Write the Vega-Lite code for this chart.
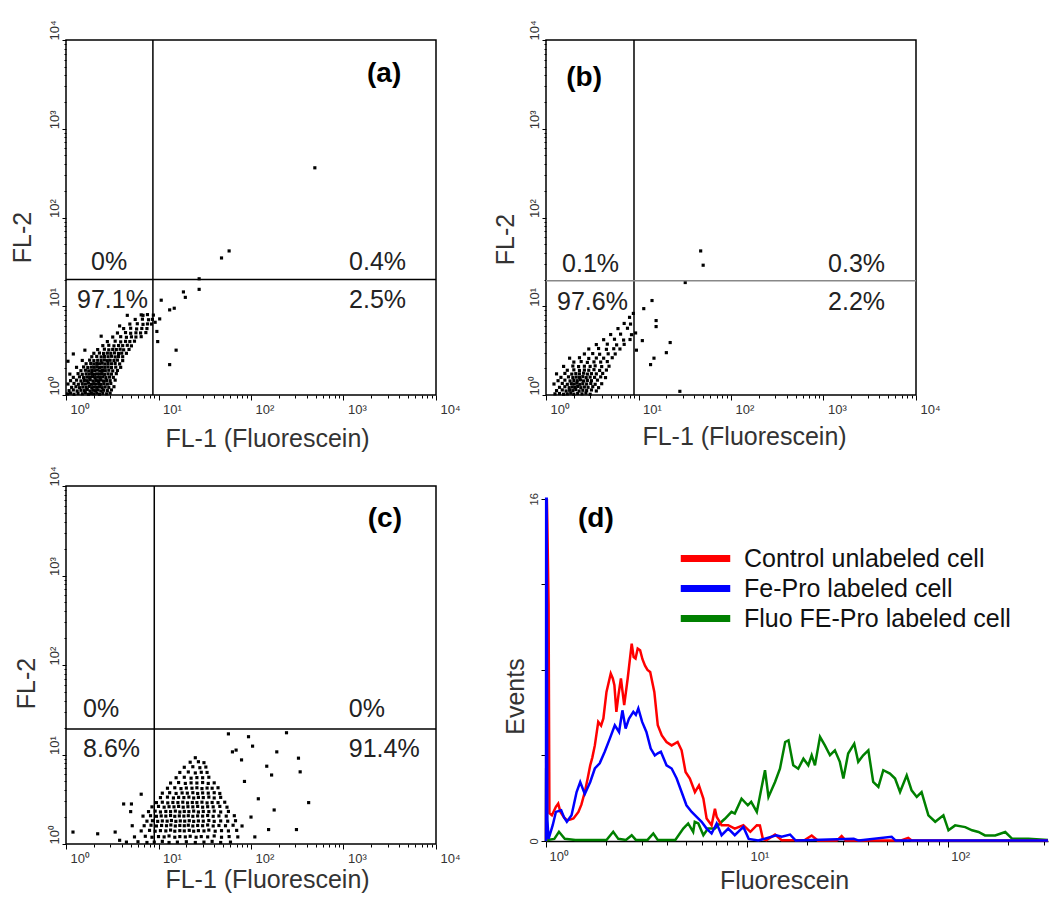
{
"$schema": "https://vega.github.io/schema/vega-lite/v6.json",
"padding": {"left": 9, "top": 19, "right": 0, "bottom": 0},
"background": "white",
"config": {
 "view": {"stroke": null},
 "font": "Liberation Sans",
 "axis": {"grid": false, "labelFont": "Liberation Sans", "labelColor": "#333", "labelFontSize": 13, "titleFont": "Liberation Sans", "titleColor": "#333", "titleFontSize": 25, "titleFontWeight": "normal", "tickColor": "black", "domainColor": "black", "labelFlush": false, "labelOverlap": false, "labelBound": false}
},
"datasets": {
"pts": [
{"p":"a","x":1.04,"y":1.03},{"p":"a","x":1.12,"y":1.05},{"p":"a","x":1.22,"y":1.02},{"p":"a","x":1.35,"y":1.04},{"p":"a","x":1.5,"y":1.03},{"p":"a","x":1.62,"y":1.06},{"p":"a","x":1.75,"y":1.02},{"p":"a","x":1.88,"y":1.04},{"p":"a","x":2.0,"y":1.03},{"p":"a","x":2.15,"y":1.05},{"p":"a","x":2.3,"y":1.02},{"p":"a","x":2.5,"y":1.04},{"p":"a","x":2.75,"y":1.03},{"p":"a","x":3.0,"y":1.05},
{"p":"a","x":1.08,"y":1.12},{"p":"a","x":1.2,"y":1.14},{"p":"a","x":1.32,"y":1.11},{"p":"a","x":1.45,"y":1.13},{"p":"a","x":1.58,"y":1.12},{"p":"a","x":1.7,"y":1.15},{"p":"a","x":1.82,"y":1.11},{"p":"a","x":1.95,"y":1.13},{"p":"a","x":2.08,"y":1.12},{"p":"a","x":2.22,"y":1.14},{"p":"a","x":2.38,"y":1.11},{"p":"a","x":2.55,"y":1.13},{"p":"a","x":2.8,"y":1.12},{"p":"a","x":3.1,"y":1.14},
{"p":"a","x":1.15,"y":1.22},{"p":"a","x":1.28,"y":1.24},{"p":"a","x":1.4,"y":1.21},{"p":"a","x":1.52,"y":1.23},{"p":"a","x":1.65,"y":1.22},{"p":"a","x":1.78,"y":1.25},{"p":"a","x":1.9,"y":1.21},{"p":"a","x":2.02,"y":1.23},{"p":"a","x":2.15,"y":1.22},{"p":"a","x":2.3,"y":1.24},{"p":"a","x":2.46,"y":1.21},{"p":"a","x":2.65,"y":1.23},{"p":"a","x":2.9,"y":1.22},{"p":"a","x":3.3,"y":1.24},
{"p":"a","x":1.05,"y":1.33},{"p":"a","x":1.22,"y":1.35},{"p":"a","x":1.36,"y":1.32},{"p":"a","x":1.5,"y":1.34},{"p":"a","x":1.62,"y":1.33},{"p":"a","x":1.75,"y":1.36},{"p":"a","x":1.88,"y":1.32},{"p":"a","x":2.0,"y":1.34},{"p":"a","x":2.12,"y":1.33},{"p":"a","x":2.26,"y":1.35},{"p":"a","x":2.4,"y":1.32},{"p":"a","x":2.58,"y":1.34},{"p":"a","x":2.8,"y":1.33},{"p":"a","x":3.05,"y":1.35},
{"p":"a","x":1.12,"y":1.45},{"p":"a","x":1.3,"y":1.47},{"p":"a","x":1.45,"y":1.44},{"p":"a","x":1.58,"y":1.46},{"p":"a","x":1.7,"y":1.45},{"p":"a","x":1.83,"y":1.48},{"p":"a","x":1.96,"y":1.44},{"p":"a","x":2.1,"y":1.46},{"p":"a","x":2.24,"y":1.45},{"p":"a","x":2.38,"y":1.47},{"p":"a","x":2.55,"y":1.44},{"p":"a","x":2.75,"y":1.46},{"p":"a","x":3.0,"y":1.45},{"p":"a","x":3.4,"y":1.47},
{"p":"a","x":1.2,"y":1.58},{"p":"a","x":1.4,"y":1.6},{"p":"a","x":1.55,"y":1.57},{"p":"a","x":1.68,"y":1.59},{"p":"a","x":1.8,"y":1.58},{"p":"a","x":1.93,"y":1.61},{"p":"a","x":2.06,"y":1.57},{"p":"a","x":2.2,"y":1.59},{"p":"a","x":2.35,"y":1.58},{"p":"a","x":2.5,"y":1.6},{"p":"a","x":2.7,"y":1.57},{"p":"a","x":2.95,"y":1.59},{"p":"a","x":3.25,"y":1.58},
{"p":"a","x":1.1,"y":1.72},{"p":"a","x":1.35,"y":1.74},{"p":"a","x":1.5,"y":1.71},{"p":"a","x":1.65,"y":1.73},{"p":"a","x":1.78,"y":1.72},{"p":"a","x":1.9,"y":1.75},{"p":"a","x":2.03,"y":1.71},{"p":"a","x":2.16,"y":1.73},{"p":"a","x":2.3,"y":1.72},{"p":"a","x":2.45,"y":1.74},{"p":"a","x":2.62,"y":1.71},{"p":"a","x":2.85,"y":1.73},{"p":"a","x":3.1,"y":1.72},{"p":"a","x":3.5,"y":1.74},
{"p":"a","x":1.45,"y":1.88},{"p":"a","x":1.62,"y":1.9},{"p":"a","x":1.76,"y":1.87},{"p":"a","x":1.9,"y":1.89},{"p":"a","x":2.04,"y":1.88},{"p":"a","x":2.18,"y":1.91},{"p":"a","x":2.32,"y":1.87},{"p":"a","x":2.48,"y":1.89},{"p":"a","x":2.66,"y":1.88},{"p":"a","x":2.9,"y":1.9},{"p":"a","x":3.2,"y":1.87},{"p":"a","x":3.6,"y":1.89},
{"p":"a","x":1.3,"y":2.05},{"p":"a","x":1.55,"y":2.07},{"p":"a","x":1.72,"y":2.04},{"p":"a","x":1.88,"y":2.06},{"p":"a","x":2.02,"y":2.05},{"p":"a","x":2.16,"y":2.08},{"p":"a","x":2.3,"y":2.04},{"p":"a","x":2.46,"y":2.06},{"p":"a","x":2.64,"y":2.05},{"p":"a","x":2.85,"y":2.07},{"p":"a","x":3.1,"y":2.04},{"p":"a","x":3.45,"y":2.06},{"p":"a","x":3.9,"y":2.05},
{"p":"a","x":1.65,"y":2.25},{"p":"a","x":1.85,"y":2.27},{"p":"a","x":2.0,"y":2.24},{"p":"a","x":2.15,"y":2.26},{"p":"a","x":2.3,"y":2.25},{"p":"a","x":2.46,"y":2.28},{"p":"a","x":2.64,"y":2.24},{"p":"a","x":2.85,"y":2.26},{"p":"a","x":3.1,"y":2.25},{"p":"a","x":3.4,"y":2.27},{"p":"a","x":3.8,"y":2.24},
{"p":"a","x":1.5,"y":2.45},{"p":"a","x":1.8,"y":2.47},{"p":"a","x":2.0,"y":2.44},{"p":"a","x":2.2,"y":2.46},{"p":"a","x":2.4,"y":2.45},{"p":"a","x":2.6,"y":2.48},{"p":"a","x":2.8,"y":2.44},{"p":"a","x":3.0,"y":2.46},{"p":"a","x":3.3,"y":2.45},{"p":"a","x":3.6,"y":2.47},{"p":"a","x":4.1,"y":2.44},
{"p":"a","x":1.9,"y":2.7},{"p":"a","x":2.15,"y":2.72},{"p":"a","x":2.4,"y":2.69},{"p":"a","x":2.6,"y":2.71},{"p":"a","x":2.85,"y":2.7},{"p":"a","x":3.1,"y":2.73},{"p":"a","x":3.4,"y":2.69},{"p":"a","x":3.7,"y":2.71},{"p":"a","x":4.1,"y":2.7},
{"p":"a","x":2.0,"y":2.95},{"p":"a","x":2.3,"y":2.97},{"p":"a","x":2.55,"y":2.94},{"p":"a","x":2.8,"y":2.96},{"p":"a","x":3.05,"y":2.95},{"p":"a","x":3.35,"y":2.98},{"p":"a","x":3.7,"y":2.94},{"p":"a","x":4.0,"y":2.96},{"p":"a","x":4.5,"y":2.95},
{"p":"a","x":2.2,"y":3.25},{"p":"a","x":2.6,"y":3.28},{"p":"a","x":2.9,"y":3.23},{"p":"a","x":3.2,"y":3.26},{"p":"a","x":3.5,"y":3.25},{"p":"a","x":3.85,"y":3.28},{"p":"a","x":4.2,"y":3.23},{"p":"a","x":4.8,"y":3.26},
{"p":"a","x":2.5,"y":3.6},{"p":"a","x":2.9,"y":3.63},{"p":"a","x":3.3,"y":3.58},{"p":"a","x":3.7,"y":3.61},{"p":"a","x":4.1,"y":3.6},{"p":"a","x":4.6,"y":3.63},{"p":"a","x":5.1,"y":3.58},
{"p":"a","x":2.8,"y":4.0},{"p":"a","x":3.4,"y":4.04},{"p":"a","x":3.9,"y":3.97},{"p":"a","x":4.4,"y":4.02},{"p":"a","x":4.9,"y":4.0},{"p":"a","x":5.5,"y":4.04},
{"p":"a","x":3.2,"y":4.5},{"p":"a","x":3.9,"y":4.54},{"p":"a","x":4.5,"y":4.47},{"p":"a","x":5.1,"y":4.52},{"p":"a","x":5.7,"y":4.5},{"p":"a","x":6.5,"y":4.54},
{"p":"a","x":3.6,"y":5.0},{"p":"a","x":4.4,"y":5.05},{"p":"a","x":5.0,"y":4.96},{"p":"a","x":5.7,"y":5.02},{"p":"a","x":6.4,"y":5.0},{"p":"a","x":7.3,"y":5.05},
{"p":"a","x":4.2,"y":5.6},{"p":"a","x":5.0,"y":5.65},{"p":"a","x":5.8,"y":5.55},{"p":"a","x":6.6,"y":5.62},{"p":"a","x":7.5,"y":5.6},
{"p":"a","x":4.9,"y":6.3},{"p":"a","x":5.9,"y":6.35},{"p":"a","x":6.8,"y":6.25},{"p":"a","x":7.6,"y":6.32},{"p":"a","x":8.4,"y":6.3},
{"p":"a","x":5.6,"y":7.1},{"p":"a","x":6.7,"y":7.15},{"p":"a","x":7.8,"y":7.05},{"p":"a","x":8.6,"y":7.12},
{"p":"a","x":6.5,"y":8.0},{"p":"a","x":7.6,"y":8.05},{"p":"a","x":8.8,"y":7.95},
{"p":"a","x":490,"y":363},{"p":"a","x":48,"y":35},{"p":"a","x":58,"y":42},{"p":"a","x":27.5,"y":20.4},{"p":"a","x":27.5,"y":15.5},{"p":"a","x":18.6,"y":14.5},{"p":"a","x":19.5,"y":12.6},{"p":"a","x":10.7,"y":11.7},{"p":"a","x":13.2,"y":9.1},{"p":"a","x":14.8,"y":9.5},{"p":"a","x":15.5,"y":3.2},{"p":"a","x":13.2,"y":2.2},{"p":"a","x":4.6,"y":7.9},{"p":"a","x":6.8,"y":7.9},{"p":"a","x":3.8,"y":6.0},{"p":"a","x":9.2,"y":6.6},{"p":"a","x":9.6,"y":5.2},{"p":"a","x":10.3,"y":7.2},{"p":"a","x":9.8,"y":4.0},{"p":"a","x":1.05,"y":2.4},{"p":"a","x":1.2,"y":2.9},{"p":"a","x":1.6,"y":3.2},{"p":"a","x":2.4,"y":4.6},
{"p":"b","x":1.25,"y":1.03},{"p":"b","x":1.4,"y":1.04},{"p":"b","x":1.55,"y":1.02},{"p":"b","x":1.7,"y":1.03},{"p":"b","x":1.85,"y":1.05},{"p":"b","x":2.0,"y":1.02},{"p":"b","x":2.2,"y":1.04},{"p":"b","x":2.45,"y":1.03},{"p":"b","x":2.7,"y":1.05},{"p":"b","x":3.0,"y":1.02},
{"p":"b","x":1.3,"y":1.12},{"p":"b","x":1.5,"y":1.14},{"p":"b","x":1.65,"y":1.11},{"p":"b","x":1.8,"y":1.13},{"p":"b","x":1.95,"y":1.12},{"p":"b","x":2.1,"y":1.15},{"p":"b","x":2.28,"y":1.11},{"p":"b","x":2.5,"y":1.13},{"p":"b","x":2.75,"y":1.12},{"p":"b","x":3.1,"y":1.14},{"p":"b","x":3.5,"y":1.11},
{"p":"b","x":1.4,"y":1.22},{"p":"b","x":1.6,"y":1.24},{"p":"b","x":1.78,"y":1.21},{"p":"b","x":1.92,"y":1.23},{"p":"b","x":2.05,"y":1.22},{"p":"b","x":2.2,"y":1.25},{"p":"b","x":2.38,"y":1.21},{"p":"b","x":2.6,"y":1.23},{"p":"b","x":2.85,"y":1.22},{"p":"b","x":3.2,"y":1.24},{"p":"b","x":3.7,"y":1.21},
{"p":"b","x":1.22,"y":1.33},{"p":"b","x":1.5,"y":1.35},{"p":"b","x":1.7,"y":1.32},{"p":"b","x":1.88,"y":1.34},{"p":"b","x":2.02,"y":1.33},{"p":"b","x":2.16,"y":1.36},{"p":"b","x":2.32,"y":1.32},{"p":"b","x":2.5,"y":1.34},{"p":"b","x":2.75,"y":1.33},{"p":"b","x":3.05,"y":1.35},{"p":"b","x":3.4,"y":1.32},{"p":"b","x":4.0,"y":1.34},
{"p":"b","x":1.35,"y":1.45},{"p":"b","x":1.6,"y":1.47},{"p":"b","x":1.82,"y":1.44},{"p":"b","x":2.0,"y":1.46},{"p":"b","x":2.18,"y":1.45},{"p":"b","x":2.36,"y":1.48},{"p":"b","x":2.55,"y":1.44},{"p":"b","x":2.8,"y":1.46},{"p":"b","x":3.1,"y":1.45},{"p":"b","x":3.6,"y":1.47},
{"p":"b","x":1.45,"y":1.58},{"p":"b","x":1.75,"y":1.6},{"p":"b","x":1.95,"y":1.57},{"p":"b","x":2.12,"y":1.59},{"p":"b","x":2.3,"y":1.58},{"p":"b","x":2.5,"y":1.61},{"p":"b","x":2.72,"y":1.57},{"p":"b","x":3.0,"y":1.59},{"p":"b","x":3.35,"y":1.58},{"p":"b","x":3.9,"y":1.6},{"p":"b","x":4.4,"y":1.57},
{"p":"b","x":1.3,"y":1.73},{"p":"b","x":1.6,"y":1.75},{"p":"b","x":1.9,"y":1.72},{"p":"b","x":2.1,"y":1.74},{"p":"b","x":2.3,"y":1.73},{"p":"b","x":2.55,"y":1.76},{"p":"b","x":2.8,"y":1.72},{"p":"b","x":3.1,"y":1.74},{"p":"b","x":3.5,"y":1.73},{"p":"b","x":4.1,"y":1.75},
{"p":"b","x":1.7,"y":1.9},{"p":"b","x":2.0,"y":1.92},{"p":"b","x":2.3,"y":1.89},{"p":"b","x":2.6,"y":1.91},{"p":"b","x":2.9,"y":1.9},{"p":"b","x":3.3,"y":1.93},{"p":"b","x":3.8,"y":1.89},{"p":"b","x":4.5,"y":1.91},
{"p":"b","x":1.55,"y":2.1},{"p":"b","x":1.95,"y":2.12},{"p":"b","x":2.25,"y":2.09},{"p":"b","x":2.6,"y":2.11},{"p":"b","x":3.0,"y":2.1},{"p":"b","x":3.4,"y":2.13},{"p":"b","x":4.0,"y":2.09},{"p":"b","x":4.8,"y":2.11},
{"p":"b","x":2.0,"y":2.35},{"p":"b","x":2.4,"y":2.38},{"p":"b","x":2.8,"y":2.33},{"p":"b","x":3.3,"y":2.36},{"p":"b","x":3.9,"y":2.35},{"p":"b","x":4.6,"y":2.38},
{"p":"b","x":1.8,"y":2.6},{"p":"b","x":2.3,"y":2.63},{"p":"b","x":2.9,"y":2.58},{"p":"b","x":3.5,"y":2.61},{"p":"b","x":4.2,"y":2.6},{"p":"b","x":5.2,"y":2.63},
{"p":"b","x":2.6,"y":2.9},{"p":"b","x":3.2,"y":2.93},{"p":"b","x":3.8,"y":2.88},{"p":"b","x":4.7,"y":2.91},{"p":"b","x":5.6,"y":2.9},
{"p":"b","x":2.9,"y":3.3},{"p":"b","x":3.7,"y":3.34},{"p":"b","x":4.5,"y":3.27},{"p":"b","x":5.4,"y":3.32},{"p":"b","x":6.3,"y":3.3},
{"p":"b","x":3.5,"y":3.7},{"p":"b","x":4.6,"y":3.74},{"p":"b","x":5.8,"y":3.67},{"p":"b","x":7.0,"y":3.72},
{"p":"b","x":4.2,"y":4.2},{"p":"b","x":5.5,"y":4.25},{"p":"b","x":6.9,"y":4.16},{"p":"b","x":8.1,"y":4.22},
{"p":"b","x":5.0,"y":4.8},{"p":"b","x":6.4,"y":4.85},{"p":"b","x":8.4,"y":4.78},
{"p":"b","x":6.0,"y":5.6},{"p":"b","x":7.6,"y":5.65},
{"p":"b","x":7.0,"y":6.4},{"p":"b","x":8.2,"y":6.3},
{"p":"b","x":8.0,"y":7.5},{"p":"b","x":8.8,"y":8.3},
{"p":"b","x":47,"y":42},{"p":"b","x":50,"y":29},{"p":"b","x":32,"y":18.5},{"p":"b","x":14,"y":11.6},{"p":"b","x":11.4,"y":9.4},{"p":"b","x":15.5,"y":6.9},{"p":"b","x":15.5,"y":5.9},{"p":"b","x":22,"y":3.9},{"p":"b","x":20,"y":3.0},{"p":"b","x":14.7,"y":2.6},{"p":"b","x":13.5,"y":2.2},{"p":"b","x":28,"y":1.1},{"p":"b","x":11,"y":4.1},{"p":"b","x":9.3,"y":5.0},{"p":"b","x":9.5,"y":3.2},
{"p":"c","x":4.5,"y":1.05},{"p":"c","x":6.0,"y":1.06},{"p":"c","x":7.5,"y":1.04},{"p":"c","x":9,"y":1.05},{"p":"c","x":11,"y":1.07},{"p":"c","x":13,"y":1.04},{"p":"c","x":16,"y":1.05},{"p":"c","x":20,"y":1.06},{"p":"c","x":25,"y":1.04},{"p":"c","x":31,"y":1.05},{"p":"c","x":38,"y":1.07},{"p":"c","x":47,"y":1.04},{"p":"c","x":60,"y":1.05},
{"p":"c","x":5.5,"y":1.2},{"p":"c","x":7.2,"y":1.22},{"p":"c","x":8.5,"y":1.19},{"p":"c","x":10,"y":1.21},{"p":"c","x":11.5,"y":1.2},{"p":"c","x":13,"y":1.23},{"p":"c","x":15,"y":1.19},{"p":"c","x":17,"y":1.21},{"p":"c","x":19.5,"y":1.2},{"p":"c","x":22,"y":1.22},{"p":"c","x":25.5,"y":1.19},{"p":"c","x":29,"y":1.21},{"p":"c","x":34,"y":1.2},{"p":"c","x":40,"y":1.23},{"p":"c","x":48,"y":1.19},{"p":"c","x":58,"y":1.21},{"p":"c","x":72,"y":1.2},
{"p":"c","x":6.5,"y":1.4},{"p":"c","x":8.0,"y":1.42},{"p":"c","x":9.2,"y":1.39},{"p":"c","x":10.5,"y":1.41},{"p":"c","x":12,"y":1.4},{"p":"c","x":13.5,"y":1.43},{"p":"c","x":15,"y":1.39},{"p":"c","x":17,"y":1.41},{"p":"c","x":19,"y":1.4},{"p":"c","x":21.5,"y":1.42},{"p":"c","x":24,"y":1.39},{"p":"c","x":27,"y":1.41},{"p":"c","x":31,"y":1.4},{"p":"c","x":35,"y":1.43},{"p":"c","x":41,"y":1.39},{"p":"c","x":48,"y":1.41},{"p":"c","x":57,"y":1.4},{"p":"c","x":70,"y":1.42},
{"p":"c","x":7.0,"y":1.6},{"p":"c","x":8.3,"y":1.62},{"p":"c","x":9.5,"y":1.59},{"p":"c","x":10.8,"y":1.61},{"p":"c","x":12.2,"y":1.6},{"p":"c","x":13.6,"y":1.63},{"p":"c","x":15.2,"y":1.59},{"p":"c","x":17,"y":1.61},{"p":"c","x":19,"y":1.6},{"p":"c","x":21,"y":1.62},{"p":"c","x":23.5,"y":1.59},{"p":"c","x":26.5,"y":1.61},{"p":"c","x":30,"y":1.6},{"p":"c","x":34,"y":1.63},{"p":"c","x":39,"y":1.59},{"p":"c","x":45,"y":1.61},{"p":"c","x":53,"y":1.6},{"p":"c","x":64,"y":1.62},{"p":"c","x":80,"y":1.59},
{"p":"c","x":7.5,"y":1.8},{"p":"c","x":8.6,"y":1.82},{"p":"c","x":9.8,"y":1.79},{"p":"c","x":11,"y":1.81},{"p":"c","x":12.4,"y":1.8},{"p":"c","x":13.8,"y":1.83},{"p":"c","x":15.4,"y":1.79},{"p":"c","x":17.2,"y":1.81},{"p":"c","x":19.2,"y":1.8},{"p":"c","x":21.5,"y":1.82},{"p":"c","x":24,"y":1.79},{"p":"c","x":27,"y":1.81},{"p":"c","x":30.5,"y":1.8},{"p":"c","x":35,"y":1.83},{"p":"c","x":40,"y":1.79},{"p":"c","x":47,"y":1.81},{"p":"c","x":56,"y":1.8},{"p":"c","x":68,"y":1.82},
{"p":"c","x":6.8,"y":2.05},{"p":"c","x":8.2,"y":2.07},{"p":"c","x":9.5,"y":2.04},{"p":"c","x":10.7,"y":2.06},{"p":"c","x":12,"y":2.05},{"p":"c","x":13.5,"y":2.08},{"p":"c","x":15,"y":2.04},{"p":"c","x":16.8,"y":2.06},{"p":"c","x":18.8,"y":2.05},{"p":"c","x":21,"y":2.07},{"p":"c","x":23.5,"y":2.04},{"p":"c","x":26.5,"y":2.06},{"p":"c","x":30,"y":2.05},{"p":"c","x":34,"y":2.08},{"p":"c","x":39,"y":2.04},{"p":"c","x":45,"y":2.06},{"p":"c","x":54,"y":2.05},{"p":"c","x":66,"y":2.07},
{"p":"c","x":7.8,"y":2.3},{"p":"c","x":9.2,"y":2.33},{"p":"c","x":10.5,"y":2.28},{"p":"c","x":12,"y":2.31},{"p":"c","x":13.5,"y":2.3},{"p":"c","x":15.2,"y":2.33},{"p":"c","x":17,"y":2.28},{"p":"c","x":19,"y":2.31},{"p":"c","x":21.3,"y":2.3},{"p":"c","x":24,"y":2.33},{"p":"c","x":27,"y":2.28},{"p":"c","x":30.5,"y":2.31},{"p":"c","x":35,"y":2.3},{"p":"c","x":40,"y":2.33},{"p":"c","x":47,"y":2.28},{"p":"c","x":57,"y":2.31},
{"p":"c","x":8.5,"y":2.6},{"p":"c","x":10,"y":2.63},{"p":"c","x":11.5,"y":2.58},{"p":"c","x":13,"y":2.61},{"p":"c","x":14.7,"y":2.6},{"p":"c","x":16.5,"y":2.63},{"p":"c","x":18.5,"y":2.58},{"p":"c","x":20.8,"y":2.61},{"p":"c","x":23.5,"y":2.6},{"p":"c","x":26.5,"y":2.63},{"p":"c","x":30,"y":2.58},{"p":"c","x":34,"y":2.61},{"p":"c","x":39,"y":2.6},{"p":"c","x":46,"y":2.63},{"p":"c","x":55,"y":2.58},
{"p":"c","x":9.5,"y":2.9},{"p":"c","x":11,"y":2.93},{"p":"c","x":12.6,"y":2.88},{"p":"c","x":14.3,"y":2.91},{"p":"c","x":16.2,"y":2.9},{"p":"c","x":18.3,"y":2.93},{"p":"c","x":20.6,"y":2.88},{"p":"c","x":23.2,"y":2.91},{"p":"c","x":26,"y":2.9},{"p":"c","x":29.5,"y":2.93},{"p":"c","x":33.5,"y":2.88},{"p":"c","x":38,"y":2.91},{"p":"c","x":44,"y":2.9},{"p":"c","x":52,"y":2.93},
{"p":"c","x":10.5,"y":3.3},{"p":"c","x":12.5,"y":3.34},{"p":"c","x":14.5,"y":3.27},{"p":"c","x":16.5,"y":3.32},{"p":"c","x":18.8,"y":3.3},{"p":"c","x":21.3,"y":3.34},{"p":"c","x":24,"y":3.27},{"p":"c","x":27,"y":3.32},{"p":"c","x":30.5,"y":3.3},{"p":"c","x":35,"y":3.34},{"p":"c","x":40,"y":3.27},{"p":"c","x":47,"y":3.32},
{"p":"c","x":11,"y":3.7},{"p":"c","x":13.2,"y":3.74},{"p":"c","x":15.5,"y":3.67},{"p":"c","x":18,"y":3.72},{"p":"c","x":20.5,"y":3.7},{"p":"c","x":23.5,"y":3.74},{"p":"c","x":26.5,"y":3.67},{"p":"c","x":30,"y":3.72},{"p":"c","x":34.5,"y":3.7},{"p":"c","x":40,"y":3.74},{"p":"c","x":46,"y":3.67},
{"p":"c","x":12.5,"y":4.2},{"p":"c","x":15,"y":4.25},{"p":"c","x":17.5,"y":4.16},{"p":"c","x":20,"y":4.22},{"p":"c","x":23,"y":4.2},{"p":"c","x":26,"y":4.25},{"p":"c","x":29.5,"y":4.16},{"p":"c","x":33.5,"y":4.22},{"p":"c","x":38,"y":4.2},{"p":"c","x":44,"y":4.25},
{"p":"c","x":13.5,"y":4.8},{"p":"c","x":16.5,"y":4.86},{"p":"c","x":19.5,"y":4.75},{"p":"c","x":22.5,"y":4.82},{"p":"c","x":26,"y":4.8},{"p":"c","x":30,"y":4.86},{"p":"c","x":34.5,"y":4.75},{"p":"c","x":40,"y":4.82},
{"p":"c","x":15.5,"y":5.5},{"p":"c","x":19,"y":5.57},{"p":"c","x":22.5,"y":5.44},{"p":"c","x":26,"y":5.52},{"p":"c","x":30,"y":5.5},{"p":"c","x":35,"y":5.57},
{"p":"c","x":17,"y":6.3},{"p":"c","x":21,"y":6.38},{"p":"c","x":25,"y":6.22},{"p":"c","x":29,"y":6.33},{"p":"c","x":33.5,"y":6.3},
{"p":"c","x":19,"y":7.2},{"p":"c","x":23.5,"y":7.3},{"p":"c","x":28,"y":7.12},{"p":"c","x":32.5,"y":7.24},
{"p":"c","x":22,"y":8.2},{"p":"c","x":27,"y":8.3},{"p":"c","x":31,"y":8.1},
{"p":"c","x":25,"y":9.2},
{"p":"c","x":1.19,"y":1.36},{"p":"c","x":2.2,"y":1.3},{"p":"c","x":3.4,"y":1.36},{"p":"c","x":4.2,"y":2.8},{"p":"c","x":5.1,"y":2.8},{"p":"c","x":6.5,"y":3.6},{"p":"c","x":5.0,"y":2.3},{"p":"c","x":57,"y":17},{"p":"c","x":94,"y":15.8},{"p":"c","x":242,"y":17.5},{"p":"c","x":104,"y":12.4},{"p":"c","x":190,"y":10.7},{"p":"c","x":326,"y":9.1},{"p":"c","x":148,"y":7.4},{"p":"c","x":167,"y":5.9},{"p":"c","x":340,"y":6.4},{"p":"c","x":420,"y":2.9},{"p":"c","x":310,"y":1.45},{"p":"c","x":155,"y":1.45},{"p":"c","x":120,"y":3.2},{"p":"c","x":178,"y":2.4},{"p":"c","x":79,"y":8.7},{"p":"c","x":69,"y":11.2},{"p":"c","x":63,"y":10.7},{"p":"c","x":85,"y":5.0},{"p":"c","x":100,"y":2.0},{"p":"c","x":110,"y":1.2},{"p":"c","x":3.8,"y":1.1},{"p":"c","x":5.2,"y":1.6}
],
"hist": [
{"s":"Fluo FE-Pro labeled cell","x":1.0,"v":0},{"s":"Fluo FE-Pro labeled cell","x":1.002,"v":3.4},{"s":"Fluo FE-Pro labeled cell","x":1.015,"v":0.05},{"s":"Fluo FE-Pro labeled cell","x":1.1,"v":0.1},{"s":"Fluo FE-Pro labeled cell","x":1.16,"v":0.43},{"s":"Fluo FE-Pro labeled cell","x":1.24,"v":0.1},{"s":"Fluo FE-Pro labeled cell","x":1.4,"v":0.05},{"s":"Fluo FE-Pro labeled cell","x":2.0,"v":0.05},{"s":"Fluo FE-Pro labeled cell","x":2.16,"v":0.43},{"s":"Fluo FE-Pro labeled cell","x":2.29,"v":0.1},{"s":"Fluo FE-Pro labeled cell","x":2.5,"v":0.05},{"s":"Fluo FE-Pro labeled cell","x":2.67,"v":0.27},{"s":"Fluo FE-Pro labeled cell","x":2.8,"v":0.05},{"s":"Fluo FE-Pro labeled cell","x":3.2,"v":0.05},{"s":"Fluo FE-Pro labeled cell","x":3.42,"v":0.35},{"s":"Fluo FE-Pro labeled cell","x":3.6,"v":0.05},{"s":"Fluo FE-Pro labeled cell","x":4.4,"v":0.05},{"s":"Fluo FE-Pro labeled cell","x":4.82,"v":0.58},{"s":"Fluo FE-Pro labeled cell","x":5.1,"v":0.82},{"s":"Fluo FE-Pro labeled cell","x":5.4,"v":0.43},{"s":"Fluo FE-Pro labeled cell","x":5.5,"v":0.9},{"s":"Fluo FE-Pro labeled cell","x":5.73,"v":0.82},{"s":"Fluo FE-Pro labeled cell","x":6.07,"v":0.27},{"s":"Fluo FE-Pro labeled cell","x":6.4,"v":0.58},{"s":"Fluo FE-Pro labeled cell","x":6.93,"v":0.58},{"s":"Fluo FE-Pro labeled cell","x":7.48,"v":0.9},{"s":"Fluo FE-Pro labeled cell","x":7.77,"v":1.04},{"s":"Fluo FE-Pro labeled cell","x":8.38,"v":1.36},{"s":"Fluo FE-Pro labeled cell","x":8.7,"v":1.28},{"s":"Fluo FE-Pro labeled cell","x":9.4,"v":1.98},{"s":"Fluo FE-Pro labeled cell","x":10.1,"v":1.67},{"s":"Fluo FE-Pro labeled cell","x":10.5,"v":1.83},{"s":"Fluo FE-Pro labeled cell","x":11.2,"v":1.36},{"s":"Fluo FE-Pro labeled cell","x":11.8,"v":2.45},{"s":"Fluo FE-Pro labeled cell","x":12.3,"v":3.31},{"s":"Fluo FE-Pro labeled cell","x":12.8,"v":2.06},{"s":"Fluo FE-Pro labeled cell","x":13.8,"v":2.76},{"s":"Fluo FE-Pro labeled cell","x":14.6,"v":3.38},{"s":"Fluo FE-Pro labeled cell","x":15.5,"v":4.63},{"s":"Fluo FE-Pro labeled cell","x":16.1,"v":4.71},{"s":"Fluo FE-Pro labeled cell","x":17,"v":3.54},{"s":"Fluo FE-Pro labeled cell","x":18,"v":3.38},{"s":"Fluo FE-Pro labeled cell","x":19.1,"v":3.85},{"s":"Fluo FE-Pro labeled cell","x":20.2,"v":3.54},{"s":"Fluo FE-Pro labeled cell","x":21,"v":4.01},{"s":"Fluo FE-Pro labeled cell","x":21.8,"v":3.54},{"s":"Fluo FE-Pro labeled cell","x":23.1,"v":4.87},{"s":"Fluo FE-Pro labeled cell","x":24.4,"v":4.48},{"s":"Fluo FE-Pro labeled cell","x":25.9,"v":4.01},{"s":"Fluo FE-Pro labeled cell","x":27.4,"v":4.24},{"s":"Fluo FE-Pro labeled cell","x":29,"v":3.7},{"s":"Fluo FE-Pro labeled cell","x":30.2,"v":2.92},{"s":"Fluo FE-Pro labeled cell","x":31.9,"v":4.09},{"s":"Fluo FE-Pro labeled cell","x":34.2,"v":4.55},{"s":"Fluo FE-Pro labeled cell","x":35.8,"v":3.7},{"s":"Fluo FE-Pro labeled cell","x":37.9,"v":4.01},{"s":"Fluo FE-Pro labeled cell","x":40.2,"v":4.24},{"s":"Fluo FE-Pro labeled cell","x":42.5,"v":2.76},{"s":"Fluo FE-Pro labeled cell","x":45.1,"v":2.53},{"s":"Fluo FE-Pro labeled cell","x":47.7,"v":3.31},{"s":"Fluo FE-Pro labeled cell","x":51.5,"v":3.15},{"s":"Fluo FE-Pro labeled cell","x":54.6,"v":2.92},{"s":"Fluo FE-Pro labeled cell","x":57.8,"v":2.29},{"s":"Fluo FE-Pro labeled cell","x":62.4,"v":3.07},{"s":"Fluo FE-Pro labeled cell","x":66,"v":2.37},{"s":"Fluo FE-Pro labeled cell","x":70,"v":2.06},{"s":"Fluo FE-Pro labeled cell","x":74,"v":2.29},{"s":"Fluo FE-Pro labeled cell","x":80,"v":1.2},{"s":"Fluo FE-Pro labeled cell","x":86.5,"v":0.9},{"s":"Fluo FE-Pro labeled cell","x":95,"v":1.2},{"s":"Fluo FE-Pro labeled cell","x":100.7,"v":0.5},{"s":"Fluo FE-Pro labeled cell","x":108.7,"v":0.73},{"s":"Fluo FE-Pro labeled cell","x":122,"v":0.65},{"s":"Fluo FE-Pro labeled cell","x":132,"v":0.5},{"s":"Fluo FE-Pro labeled cell","x":142,"v":0.42},{"s":"Fluo FE-Pro labeled cell","x":153,"v":0.26},{"s":"Fluo FE-Pro labeled cell","x":172,"v":0.26},{"s":"Fluo FE-Pro labeled cell","x":193,"v":0.42},{"s":"Fluo FE-Pro labeled cell","x":209,"v":0.1},{"s":"Fluo FE-Pro labeled cell","x":252,"v":0.1},{"s":"Fluo FE-Pro labeled cell","x":315,"v":0.05},
{"s":"Control unlabeled cell","x":1.0,"v":0},{"s":"Control unlabeled cell","x":1.01,"v":16},{"s":"Control unlabeled cell","x":1.015,"v":15},{"s":"Control unlabeled cell","x":1.03,"v":11},{"s":"Control unlabeled cell","x":1.04,"v":1.3},{"s":"Control unlabeled cell","x":1.07,"v":1.2},{"s":"Control unlabeled cell","x":1.12,"v":1.6},{"s":"Control unlabeled cell","x":1.15,"v":1.75},{"s":"Control unlabeled cell","x":1.18,"v":1.36},{"s":"Control unlabeled cell","x":1.23,"v":1.1},{"s":"Control unlabeled cell","x":1.27,"v":0.97},{"s":"Control unlabeled cell","x":1.32,"v":1.0},{"s":"Control unlabeled cell","x":1.37,"v":1.05},{"s":"Control unlabeled cell","x":1.45,"v":1.36},{"s":"Control unlabeled cell","x":1.5,"v":1.7},{"s":"Control unlabeled cell","x":1.56,"v":2.29},{"s":"Control unlabeled cell","x":1.61,"v":2.9},{"s":"Control unlabeled cell","x":1.66,"v":3.54},{"s":"Control unlabeled cell","x":1.7,"v":3.9},{"s":"Control unlabeled cell","x":1.75,"v":4.47},{"s":"Control unlabeled cell","x":1.82,"v":5.57},{"s":"Control unlabeled cell","x":1.88,"v":5.4},{"s":"Control unlabeled cell","x":1.93,"v":5.73},{"s":"Control unlabeled cell","x":2.0,"v":6.97},{"s":"Control unlabeled cell","x":2.1,"v":7.83},{"s":"Control unlabeled cell","x":2.15,"v":7.6},{"s":"Control unlabeled cell","x":2.19,"v":7.28},{"s":"Control unlabeled cell","x":2.24,"v":6.04},{"s":"Control unlabeled cell","x":2.3,"v":6.9},{"s":"Control unlabeled cell","x":2.36,"v":7.6},{"s":"Control unlabeled cell","x":2.45,"v":6.35},{"s":"Control unlabeled cell","x":2.55,"v":7.6},{"s":"Control unlabeled cell","x":2.67,"v":9.23},{"s":"Control unlabeled cell","x":2.73,"v":8.6},{"s":"Control unlabeled cell","x":2.79,"v":8.53},{"s":"Control unlabeled cell","x":2.86,"v":9.0},{"s":"Control unlabeled cell","x":2.94,"v":8.92},{"s":"Control unlabeled cell","x":3.02,"v":8.5},{"s":"Control unlabeled cell","x":3.11,"v":8.2},{"s":"Control unlabeled cell","x":3.2,"v":8.0},{"s":"Control unlabeled cell","x":3.3,"v":7.9},{"s":"Control unlabeled cell","x":3.46,"v":6.97},{"s":"Control unlabeled cell","x":3.6,"v":5.41},{"s":"Control unlabeled cell","x":3.77,"v":4.94},{"s":"Control unlabeled cell","x":3.98,"v":4.63},{"s":"Control unlabeled cell","x":4.22,"v":4.47},{"s":"Control unlabeled cell","x":4.52,"v":4.63},{"s":"Control unlabeled cell","x":4.73,"v":4.24},{"s":"Control unlabeled cell","x":4.95,"v":3.23},{"s":"Control unlabeled cell","x":5.2,"v":2.92},{"s":"Control unlabeled cell","x":5.51,"v":2.29},{"s":"Control unlabeled cell","x":5.77,"v":2.6},{"s":"Control unlabeled cell","x":6.07,"v":1.98},{"s":"Control unlabeled cell","x":6.3,"v":1.05},{"s":"Control unlabeled cell","x":6.67,"v":0.74},{"s":"Control unlabeled cell","x":6.93,"v":1.51},{"s":"Control unlabeled cell","x":7.07,"v":1.13},{"s":"Control unlabeled cell","x":7.48,"v":0.74},{"s":"Control unlabeled cell","x":8.07,"v":0.74},{"s":"Control unlabeled cell","x":8.7,"v":0.58},{"s":"Control unlabeled cell","x":9.6,"v":0.74},{"s":"Control unlabeled cell","x":10.4,"v":0.43},{"s":"Control unlabeled cell","x":11.2,"v":0.74},{"s":"Control unlabeled cell","x":11.6,"v":0.73},{"s":"Control unlabeled cell","x":12.0,"v":0.1},{"s":"Control unlabeled cell","x":12.5,"v":0.04},{"s":"Control unlabeled cell","x":13.8,"v":0.3},{"s":"Control unlabeled cell","x":14.9,"v":0.04},{"s":"Control unlabeled cell","x":19.4,"v":0.05},{"s":"Control unlabeled cell","x":21,"v":0.26},{"s":"Control unlabeled cell","x":22.5,"v":0.02},{"s":"Control unlabeled cell","x":28,"v":0.02},{"s":"Control unlabeled cell","x":29.6,"v":0.23},{"s":"Control unlabeled cell","x":31,"v":0.02},{"s":"Control unlabeled cell","x":58,"v":0.02},{"s":"Control unlabeled cell","x":63.5,"v":0.14},{"s":"Control unlabeled cell","x":66,"v":0.02},{"s":"Control unlabeled cell","x":315,"v":0.02},
{"s":"Fe-Pro labeled cell","x":1.0,"v":0},{"s":"Fe-Pro labeled cell","x":1.002,"v":16},{"s":"Fe-Pro labeled cell","x":1.008,"v":16},{"s":"Fe-Pro labeled cell","x":1.015,"v":1.0},{"s":"Fe-Pro labeled cell","x":1.03,"v":0.1},{"s":"Fe-Pro labeled cell","x":1.08,"v":0.74},{"s":"Fe-Pro labeled cell","x":1.12,"v":1.36},{"s":"Fe-Pro labeled cell","x":1.19,"v":1.44},{"s":"Fe-Pro labeled cell","x":1.23,"v":1.1},{"s":"Fe-Pro labeled cell","x":1.27,"v":0.9},{"s":"Fe-Pro labeled cell","x":1.34,"v":1.2},{"s":"Fe-Pro labeled cell","x":1.42,"v":2.29},{"s":"Fe-Pro labeled cell","x":1.48,"v":2.76},{"s":"Fe-Pro labeled cell","x":1.56,"v":2.2},{"s":"Fe-Pro labeled cell","x":1.66,"v":2.76},{"s":"Fe-Pro labeled cell","x":1.75,"v":3.39},{"s":"Fe-Pro labeled cell","x":1.85,"v":3.63},{"s":"Fe-Pro labeled cell","x":1.96,"v":4.17},{"s":"Fe-Pro labeled cell","x":2.08,"v":4.8},{"s":"Fe-Pro labeled cell","x":2.2,"v":5.41},{"s":"Fe-Pro labeled cell","x":2.31,"v":5.1},{"s":"Fe-Pro labeled cell","x":2.4,"v":6.11},{"s":"Fe-Pro labeled cell","x":2.49,"v":5.26},{"s":"Fe-Pro labeled cell","x":2.59,"v":5.73},{"s":"Fe-Pro labeled cell","x":2.72,"v":6.04},{"s":"Fe-Pro labeled cell","x":2.8,"v":5.9},{"s":"Fe-Pro labeled cell","x":2.88,"v":6.2},{"s":"Fe-Pro labeled cell","x":3.01,"v":5.57},{"s":"Fe-Pro labeled cell","x":3.16,"v":5.1},{"s":"Fe-Pro labeled cell","x":3.32,"v":4.32},{"s":"Fe-Pro labeled cell","x":3.48,"v":4.0},{"s":"Fe-Pro labeled cell","x":3.6,"v":4.1},{"s":"Fe-Pro labeled cell","x":3.73,"v":4.17},{"s":"Fe-Pro labeled cell","x":3.98,"v":3.54},{"s":"Fe-Pro labeled cell","x":4.22,"v":3.39},{"s":"Fe-Pro labeled cell","x":4.47,"v":2.92},{"s":"Fe-Pro labeled cell","x":4.73,"v":2.29},{"s":"Fe-Pro labeled cell","x":5.0,"v":1.67},{"s":"Fe-Pro labeled cell","x":5.31,"v":1.36},{"s":"Fe-Pro labeled cell","x":5.62,"v":1.13},{"s":"Fe-Pro labeled cell","x":5.95,"v":0.9},{"s":"Fe-Pro labeled cell","x":6.3,"v":0.58},{"s":"Fe-Pro labeled cell","x":6.67,"v":0.35},{"s":"Fe-Pro labeled cell","x":7.07,"v":0.82},{"s":"Fe-Pro labeled cell","x":7.48,"v":0.27},{"s":"Fe-Pro labeled cell","x":8.07,"v":0.58},{"s":"Fe-Pro labeled cell","x":8.7,"v":0.27},{"s":"Fe-Pro labeled cell","x":9.6,"v":0.66},{"s":"Fe-Pro labeled cell","x":10.2,"v":0.1},{"s":"Fe-Pro labeled cell","x":11.4,"v":0.02},{"s":"Fe-Pro labeled cell","x":14,"v":0.27},{"s":"Fe-Pro labeled cell","x":14.9,"v":0.2},{"s":"Fe-Pro labeled cell","x":16.4,"v":0.3},{"s":"Fe-Pro labeled cell","x":17.5,"v":0.02},{"s":"Fe-Pro labeled cell","x":34,"v":0.1},{"s":"Fe-Pro labeled cell","x":36,"v":0.02},{"s":"Fe-Pro labeled cell","x":52.5,"v":0.2},{"s":"Fe-Pro labeled cell","x":55,"v":0.02},{"s":"Fe-Pro labeled cell","x":315,"v":0.02}
]
},
"columns": 2,
"spacing": {"row": 91, "column": 110},
"bounds": "flush",
"resolve": {"legend": {"color": "independent"}},
"concat": [
 {"width": 370, "height": 355, "view": {"stroke": "black", "strokeWidth": 1.5},
  "resolve": {"axis": {"x": "independent", "y": "independent"}},
  "layer": [
   {"data": {"name": "pts"}, "transform": [{"filter": "datum.p === 'a'"}],
    "mark": {"type": "square", "size": 10, "color": "black", "opacity": 1},
    "encoding": {
     "x": {"field": "x", "type": "quantitative", "scale": {"type": "log", "domain": [1, 10000], "nice": false},
      "axis": {"orient": "bottom", "values": [1, 10, 100, 1000, 10000], "labelExpr": "'10' + ['⁰','¹','²','³','⁴'][round(log(datum.value)/LN10)]", "labelAlign": "left", "labelOffset": 4, "labelPadding": 3, "tickSize": 5, "domain": false, "title": "FL-1 (Fluorescein)", "titleX": 201, "titleY": 43, "titleBaseline": "middle", "titleAlign": "center"}},
     "y": {"field": "y", "type": "quantitative", "scale": {"type": "log", "domain": [1, 10000], "nice": false},
      "axis": {"orient": "left", "values": [1, 10, 100, 1000, 10000], "labelExpr": "'10' + ['⁰','¹','²','³','⁴'][round(log(datum.value)/LN10)]", "labelAngle": 270, "labelAlign": "left", "labelBaseline": "bottom", "labelPadding": 1, "tickSize": 4, "domain": false, "title": "FL-2", "titleAngle": 270, "titleX": -44, "titleY": 197, "titleBaseline": "middle", "titleAlign": "center"}}}},
   {"data": {"values": [{}]}, "mark": {"type": "rule", "color": "black", "strokeWidth": 1.5},
    "encoding": {"x": {"datum": 8.7, "type": "quantitative", "scale": {"type": "log", "domain": [1, 10000], "nice": false},
     "axis": {"orient": "bottom", "values": [2,3,4,5,6,7,8,9,20,30,40,50,60,70,80,90,200,300,400,500,600,700,800,900,2000,3000,4000,5000,6000,7000,8000,9000], "labels": false, "tickSize": 3, "domain": false, "title": null}}}},
   {"data": {"values": [{}]}, "mark": {"type": "rule", "color": "black", "strokeWidth": 1.5},
    "encoding": {"y": {"datum": 20, "type": "quantitative", "scale": {"type": "log", "domain": [1, 10000], "nice": false},
     "axis": {"orient": "left", "values": [2,3,4,5,6,7,8,9,20,30,40,50,60,70,80,90,200,300,400,500,600,700,800,900,2000,3000,4000,5000,6000,7000,8000,9000], "labels": false, "tickSize": 2, "domain": false, "title": null}}}},
   {"data": {"values": [{}]}, "mark": {"type": "text", "fontSize": 25, "color": "#222", "align": "center", "baseline": "middle"},
    "encoding": {"x": {"datum": 2.92, "type": "quantitative", "axis": null}, "y": {"datum": 31.8, "type": "quantitative", "axis": null}, "text": {"value": "0%"}}},
   {"data": {"values": [{}]}, "mark": {"type": "text", "fontSize": 25, "color": "#222", "align": "center", "baseline": "middle"},
    "encoding": {"x": {"datum": 3.18, "type": "quantitative", "axis": null}, "y": {"datum": 11.8, "type": "quantitative", "axis": null}, "text": {"value": "97.1%"}}},
   {"data": {"values": [{}]}, "mark": {"type": "text", "fontSize": 25, "color": "#222", "align": "left", "baseline": "middle"},
    "encoding": {"x": {"datum": 1148, "type": "quantitative", "axis": null}, "y": {"datum": 31.8, "type": "quantitative", "axis": null}, "text": {"value": "0.4%"}}},
   {"data": {"values": [{}]}, "mark": {"type": "text", "fontSize": 25, "color": "#222", "align": "left", "baseline": "middle"},
    "encoding": {"x": {"datum": 1148, "type": "quantitative", "axis": null}, "y": {"datum": 11.8, "type": "quantitative", "axis": null}, "text": {"value": "2.5%"}}},
   {"data": {"values": [{}]}, "mark": {"type": "text", "fontSize": 28, "fontWeight": "bold", "color": "black", "align": "center", "baseline": "middle"},
    "encoding": {"x": {"datum": 2750, "type": "quantitative", "axis": null}, "y": {"datum": 4130, "type": "quantitative", "axis": null}, "text": {"value": "(a)"}}}
  ]},
 {"width": 370, "height": 355, "view": {"stroke": "black", "strokeWidth": 1.5},
  "resolve": {"axis": {"x": "independent", "y": "independent"}},
  "layer": [
   {"data": {"name": "pts"}, "transform": [{"filter": "datum.p === 'b'"}],
    "mark": {"type": "square", "size": 10, "color": "black", "opacity": 1},
    "encoding": {
     "x": {"field": "x", "type": "quantitative", "scale": {"type": "log", "domain": [1, 10000], "nice": false},
      "axis": {"orient": "bottom", "values": [1, 10, 100, 1000, 10000], "labelExpr": "'10' + ['⁰','¹','²','³','⁴'][round(log(datum.value)/LN10)]", "labelAlign": "left", "labelOffset": 4, "labelPadding": 3, "tickSize": 5, "domain": false, "title": "FL-1 (Fluorescein)", "titleX": 198, "titleY": 41, "titleBaseline": "middle", "titleAlign": "center"}},
     "y": {"field": "y", "type": "quantitative", "scale": {"type": "log", "domain": [1, 10000], "nice": false},
      "axis": {"orient": "left", "values": [1, 10, 100, 1000, 10000], "labelExpr": "'10' + ['⁰','¹','²','³','⁴'][round(log(datum.value)/LN10)]", "labelAngle": 270, "labelAlign": "left", "labelBaseline": "bottom", "labelPadding": 1, "tickSize": 4, "domain": false, "title": "FL-2", "titleAngle": 270, "titleX": -41, "titleY": 199, "titleBaseline": "middle", "titleAlign": "center"}}}},
   {"data": {"values": [{}]}, "mark": {"type": "rule", "color": "black", "strokeWidth": 1.5},
    "encoding": {"x": {"datum": 8.94, "type": "quantitative", "scale": {"type": "log", "domain": [1, 10000], "nice": false},
     "axis": {"orient": "bottom", "values": [2,3,4,5,6,7,8,9,20,30,40,50,60,70,80,90,200,300,400,500,600,700,800,900,2000,3000,4000,5000,6000,7000,8000,9000], "labels": false, "tickSize": 3, "domain": false, "title": null}}}},
   {"data": {"values": [{}]}, "mark": {"type": "rule", "color": "#888", "strokeWidth": 1.5},
    "encoding": {"y": {"datum": 19.4, "type": "quantitative", "scale": {"type": "log", "domain": [1, 10000], "nice": false},
     "axis": {"orient": "left", "values": [2,3,4,5,6,7,8,9,20,30,40,50,60,70,80,90,200,300,400,500,600,700,800,900,2000,3000,4000,5000,6000,7000,8000,9000], "labels": false, "tickSize": 2, "domain": false, "title": null}}}},
   {"data": {"values": [{}]}, "mark": {"type": "text", "fontSize": 25, "color": "#222", "align": "center", "baseline": "middle"},
    "encoding": {"x": {"datum": 3.03, "type": "quantitative", "axis": null}, "y": {"datum": 30, "type": "quantitative", "axis": null}, "text": {"value": "0.1%"}}},
   {"data": {"values": [{}]}, "mark": {"type": "text", "fontSize": 25, "color": "#222", "align": "center", "baseline": "middle"},
    "encoding": {"x": {"datum": 3.18, "type": "quantitative", "axis": null}, "y": {"datum": 11.3, "type": "quantitative", "axis": null}, "text": {"value": "97.6%"}}},
   {"data": {"values": [{}]}, "mark": {"type": "text", "fontSize": 25, "color": "#222", "align": "left", "baseline": "middle"},
    "encoding": {"x": {"datum": 1120, "type": "quantitative", "axis": null}, "y": {"datum": 30, "type": "quantitative", "axis": null}, "text": {"value": "0.3%"}}},
   {"data": {"values": [{}]}, "mark": {"type": "text", "fontSize": 25, "color": "#222", "align": "left", "baseline": "middle"},
    "encoding": {"x": {"datum": 1120, "type": "quantitative", "axis": null}, "y": {"datum": 11.3, "type": "quantitative", "axis": null}, "text": {"value": "2.2%"}}},
   {"data": {"values": [{}]}, "mark": {"type": "text", "fontSize": 28, "fontWeight": "bold", "color": "black", "align": "center", "baseline": "middle"},
    "encoding": {"x": {"datum": 2.58, "type": "quantitative", "axis": null}, "y": {"datum": 3750, "type": "quantitative", "axis": null}, "text": {"value": "(b)"}}}
  ]},
 {"width": 370, "height": 358, "view": {"stroke": "black", "strokeWidth": 1.5},
  "resolve": {"axis": {"x": "independent", "y": "independent"}},
  "layer": [
   {"data": {"name": "pts"}, "transform": [{"filter": "datum.p === 'c'"}],
    "mark": {"type": "square", "size": 10, "color": "black", "opacity": 1},
    "encoding": {
     "x": {"field": "x", "type": "quantitative", "scale": {"type": "log", "domain": [1, 10000], "nice": false},
      "axis": {"orient": "bottom", "values": [1, 10, 100, 1000, 10000], "labelExpr": "'10' + ['⁰','¹','²','³','⁴'][round(log(datum.value)/LN10)]", "labelAlign": "left", "labelOffset": 4, "labelPadding": 3, "tickSize": 5, "domain": false, "title": "FL-1 (Fluorescein)", "titleX": 201, "titleY": 35, "titleBaseline": "middle", "titleAlign": "center"}},
     "y": {"field": "y", "type": "quantitative", "scale": {"type": "log", "domain": [1, 10000], "nice": false},
      "axis": {"orient": "left", "values": [1, 10, 100, 1000, 10000], "labelExpr": "'10' + ['⁰','¹','²','³','⁴'][round(log(datum.value)/LN10)]", "labelAngle": 270, "labelAlign": "left", "labelBaseline": "bottom", "labelPadding": 1, "tickSize": 4, "domain": false, "title": "FL-2", "titleAngle": 270, "titleX": -40, "titleY": 197, "titleBaseline": "middle", "titleAlign": "center"}}}},
   {"data": {"values": [{}]}, "mark": {"type": "rule", "color": "black", "strokeWidth": 1.5},
    "encoding": {"x": {"datum": 9.0, "type": "quantitative", "scale": {"type": "log", "domain": [1, 10000], "nice": false},
     "axis": {"orient": "bottom", "values": [2,3,4,5,6,7,8,9,20,30,40,50,60,70,80,90,200,300,400,500,600,700,800,900,2000,3000,4000,5000,6000,7000,8000,9000], "labels": false, "tickSize": 3, "domain": false, "title": null}}}},
   {"data": {"values": [{}]}, "mark": {"type": "rule", "color": "black", "strokeWidth": 1.5},
    "encoding": {"y": {"datum": 19.3, "type": "quantitative", "scale": {"type": "log", "domain": [1, 10000], "nice": false},
     "axis": {"orient": "left", "values": [2,3,4,5,6,7,8,9,20,30,40,50,60,70,80,90,200,300,400,500,600,700,800,900,2000,3000,4000,5000,6000,7000,8000,9000], "labels": false, "tickSize": 2, "domain": false, "title": null}}}},
   {"data": {"values": [{}]}, "mark": {"type": "text", "fontSize": 25, "color": "#222", "align": "left", "baseline": "middle"},
    "encoding": {"x": {"datum": 1.53, "type": "quantitative", "axis": null}, "y": {"datum": 32.2, "type": "quantitative", "axis": null}, "text": {"value": "0%"}}},
   {"data": {"values": [{}]}, "mark": {"type": "text", "fontSize": 25, "color": "#222", "align": "left", "baseline": "middle"},
    "encoding": {"x": {"datum": 1.53, "type": "quantitative", "axis": null}, "y": {"datum": 11.5, "type": "quantitative", "axis": null}, "text": {"value": "8.6%"}}},
   {"data": {"values": [{}]}, "mark": {"type": "text", "fontSize": 25, "color": "#222", "align": "left", "baseline": "middle"},
    "encoding": {"x": {"datum": 1140, "type": "quantitative", "axis": null}, "y": {"datum": 32.2, "type": "quantitative", "axis": null}, "text": {"value": "0%"}}},
   {"data": {"values": [{}]}, "mark": {"type": "text", "fontSize": 25, "color": "#222", "align": "left", "baseline": "middle"},
    "encoding": {"x": {"datum": 1140, "type": "quantitative", "axis": null}, "y": {"datum": 11.5, "type": "quantitative", "axis": null}, "text": {"value": "91.4%"}}},
   {"data": {"values": [{}]}, "mark": {"type": "text", "fontSize": 28, "fontWeight": "bold", "color": "black", "align": "center", "baseline": "middle"},
    "encoding": {"x": {"datum": 2800, "type": "quantitative", "axis": null}, "y": {"datum": 4280, "type": "quantitative", "axis": null}, "text": {"value": "(c)"}}}
  ]},
 {"width": 502, "height": 355,
  "resolve": {"axis": {"x": "independent", "y": "independent"}},
  "layer": [
   {"data": {"values": [{}]}, "mark": {"type": "rule", "color": "black", "strokeWidth": 1.5},
    "encoding": {
     "x": {"datum": 1, "type": "quantitative", "scale": {"type": "log", "domain": [1, 315], "nice": false},
      "axis": {"orient": "bottom", "values": [2,3,4,5,6,7,8,9,20,30,40,50,60,70,80,90,200,300], "labels": false, "tickSize": 4, "domain": false, "title": null}},
     "y": {"datum": 0, "type": "quantitative", "scale": {"domain": [0, 16.6], "nice": false}, "axis": null},
     "y2": {"datum": 16}}},
   {"data": {"name": "hist"}, "mark": {"type": "line", "strokeWidth": 2.5, "interpolate": "linear"},
    "encoding": {
     "x": {"field": "x", "type": "quantitative", "scale": {"type": "log", "domain": [1, 315], "nice": false},
      "axis": {"orient": "bottom", "values": [1, 10, 100], "labelExpr": "'10' + ['⁰','¹','²','³','⁴'][round(log(datum.value)/LN10)]", "labelAlign": "left", "labelOffset": 3, "labelPadding": 3, "tickSize": 6, "domain": true, "domainWidth": 1.5, "title": "Fluorescein", "titleX": 238, "titleY": 39, "titleBaseline": "middle", "titleAlign": "center"}},
     "y": {"field": "v", "type": "quantitative", "scale": {"domain": [0, 16.6], "nice": false},
      "axis": {"orient": "left", "values": [0, 4, 8, 12, 16], "labelExpr": "datum.value == 0 || datum.value == 16 ? datum.label : ''", "labelAngle": 270, "labelAlign": "center", "labelBaseline": "bottom", "labelFontSize": 11, "labelPadding": 2, "tickSize": 5, "domain": false, "title": "Events", "titleAngle": 270, "titleX": -31, "titleY": 210, "titleBaseline": "middle", "titleAlign": "center"}},
     "color": {"field": "s", "type": "nominal",
      "scale": {"domain": ["Control unlabeled cell", "Fe-Pro labeled cell", "Fluo FE-Pro labeled cell"], "range": ["#ff0000", "#0000ff", "#008000"]},
      "legend": {"orient": "none", "legendX": 147, "legendY": 60, "title": null, "symbolType": "M-3,0H3", "symbolSize": 272, "symbolStrokeWidth": 7, "labelFontSize": 25, "labelColor": "#111", "labelOffset": 26, "rowPadding": 1, "padding": 0, "labelLimit": 400}}}},
   {"data": {"values": [{}]}, "mark": {"type": "text", "fontSize": 28, "fontWeight": "bold", "color": "black", "align": "center", "baseline": "middle"},
    "encoding": {"x": {"datum": 1.77, "type": "quantitative", "axis": null}, "y": {"datum": 15.06, "type": "quantitative", "axis": null}, "text": {"value": "(d)"}}}
  ]}
]
}
